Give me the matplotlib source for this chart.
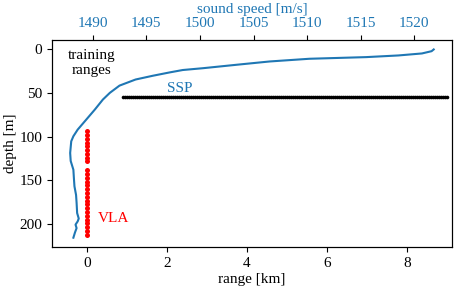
import matplotlib
matplotlib.use('Agg')
import matplotlib.pyplot as plt
import numpy as np

plt.rcParams.update({'font.family': ['Liberation Serif', 'DejaVu Serif'], 'font.size': 11})

# sound speed profile
ssp_speed = [1521.8, 1521.6, 1520.7, 1518.5, 1515.5, 1510.2, 1506.5, 1503.4, 1500.3,
             1498.4, 1497.2, 1495.6, 1494.0, 1492.5, 1491.6, 1490.95, 1490.2, 1489.4,
             1488.6, 1488.2, 1488.0, 1487.9, 1487.95, 1488.2, 1488.25, 1488.3, 1488.45,
             1488.5, 1488.55, 1488.7, 1488.6, 1488.4, 1488.5, 1488.35, 1488.2]
ssp_depth = [0, 2, 4.6, 6.9, 8.8, 10.7, 13.8, 17.6, 21.5,
             23.6, 26.3, 30.2, 34.5, 41.5, 49.8, 57.5, 69, 80.5,
             92, 99.6, 105.4, 118.8, 128, 138, 148, 157, 167,
             176, 187.7, 194, 197.3, 201, 205, 210, 216]

# training ranges (km) at one source depth
train_start, train_stop, train_step = 0.9, 9.0, 0.05
train_ranges = np.arange(train_start, train_stop + 1e-6, train_step)
train_depth = 54

# vertical line array
vla_range = 0
vla_depths = [94.1, 98.4, 102.7, 107.0, 111.3, 115.6, 119.9, 124.2, 128.5,
              138.6, 143.0, 147.3, 151.7, 156.0, 160.4, 164.7, 169.1, 173.4,
              177.8, 182.1, 186.5, 190.8, 195.2, 199.5, 203.9, 208.2, 212.6]

fig = plt.figure(figsize=(4.56, 2.88), dpi=100)
ax = fig.add_axes([0.114, 0.142, 0.877, 0.719])
ax.plot(train_ranges, np.full(len(train_ranges), train_depth), 'o', color='black', ms=2.6, mew=0)
ax.plot(np.full(len(vla_depths), vla_range), vla_depths, 'o', color='red', ms=3.6, mew=0)
ax.set_xlim(-0.875, 9.125)
ax.set_ylim(226.8, -10.8)
ax.set_xticks([0, 2, 4, 6, 8])
ax.set_yticks([0, 50, 100, 150, 200])
ax.set_xlabel('range [km]', labelpad=2)
ax.set_ylabel('depth [m]', labelpad=2)

ax.text(0.125, 15.5, 'training\nranges', ha='center', va='center', color='black', linespacing=1.25)
ax.text(2.32, 45.2, 'SSP', ha='center', va='center', color='#1f77b4')
ax.text(0.275, 193.5, 'VLA', ha='left', va='center', color='red')

ax2 = ax.twiny()
ax2.plot(ssp_speed, ssp_depth, color='#1f77b4', lw=1.5)
ax2.set_xlabel('sound speed [m/s]', color='#1f77b4', labelpad=3)
ax2.set_xticks([1490, 1495, 1500, 1505, 1510, 1515, 1520])
ax2.set_ylim(226.8, -10.8)
ax2.tick_params(axis='x', colors='black', labelcolor='#1f77b4')

fig.savefig('out.png', dpi=100)
